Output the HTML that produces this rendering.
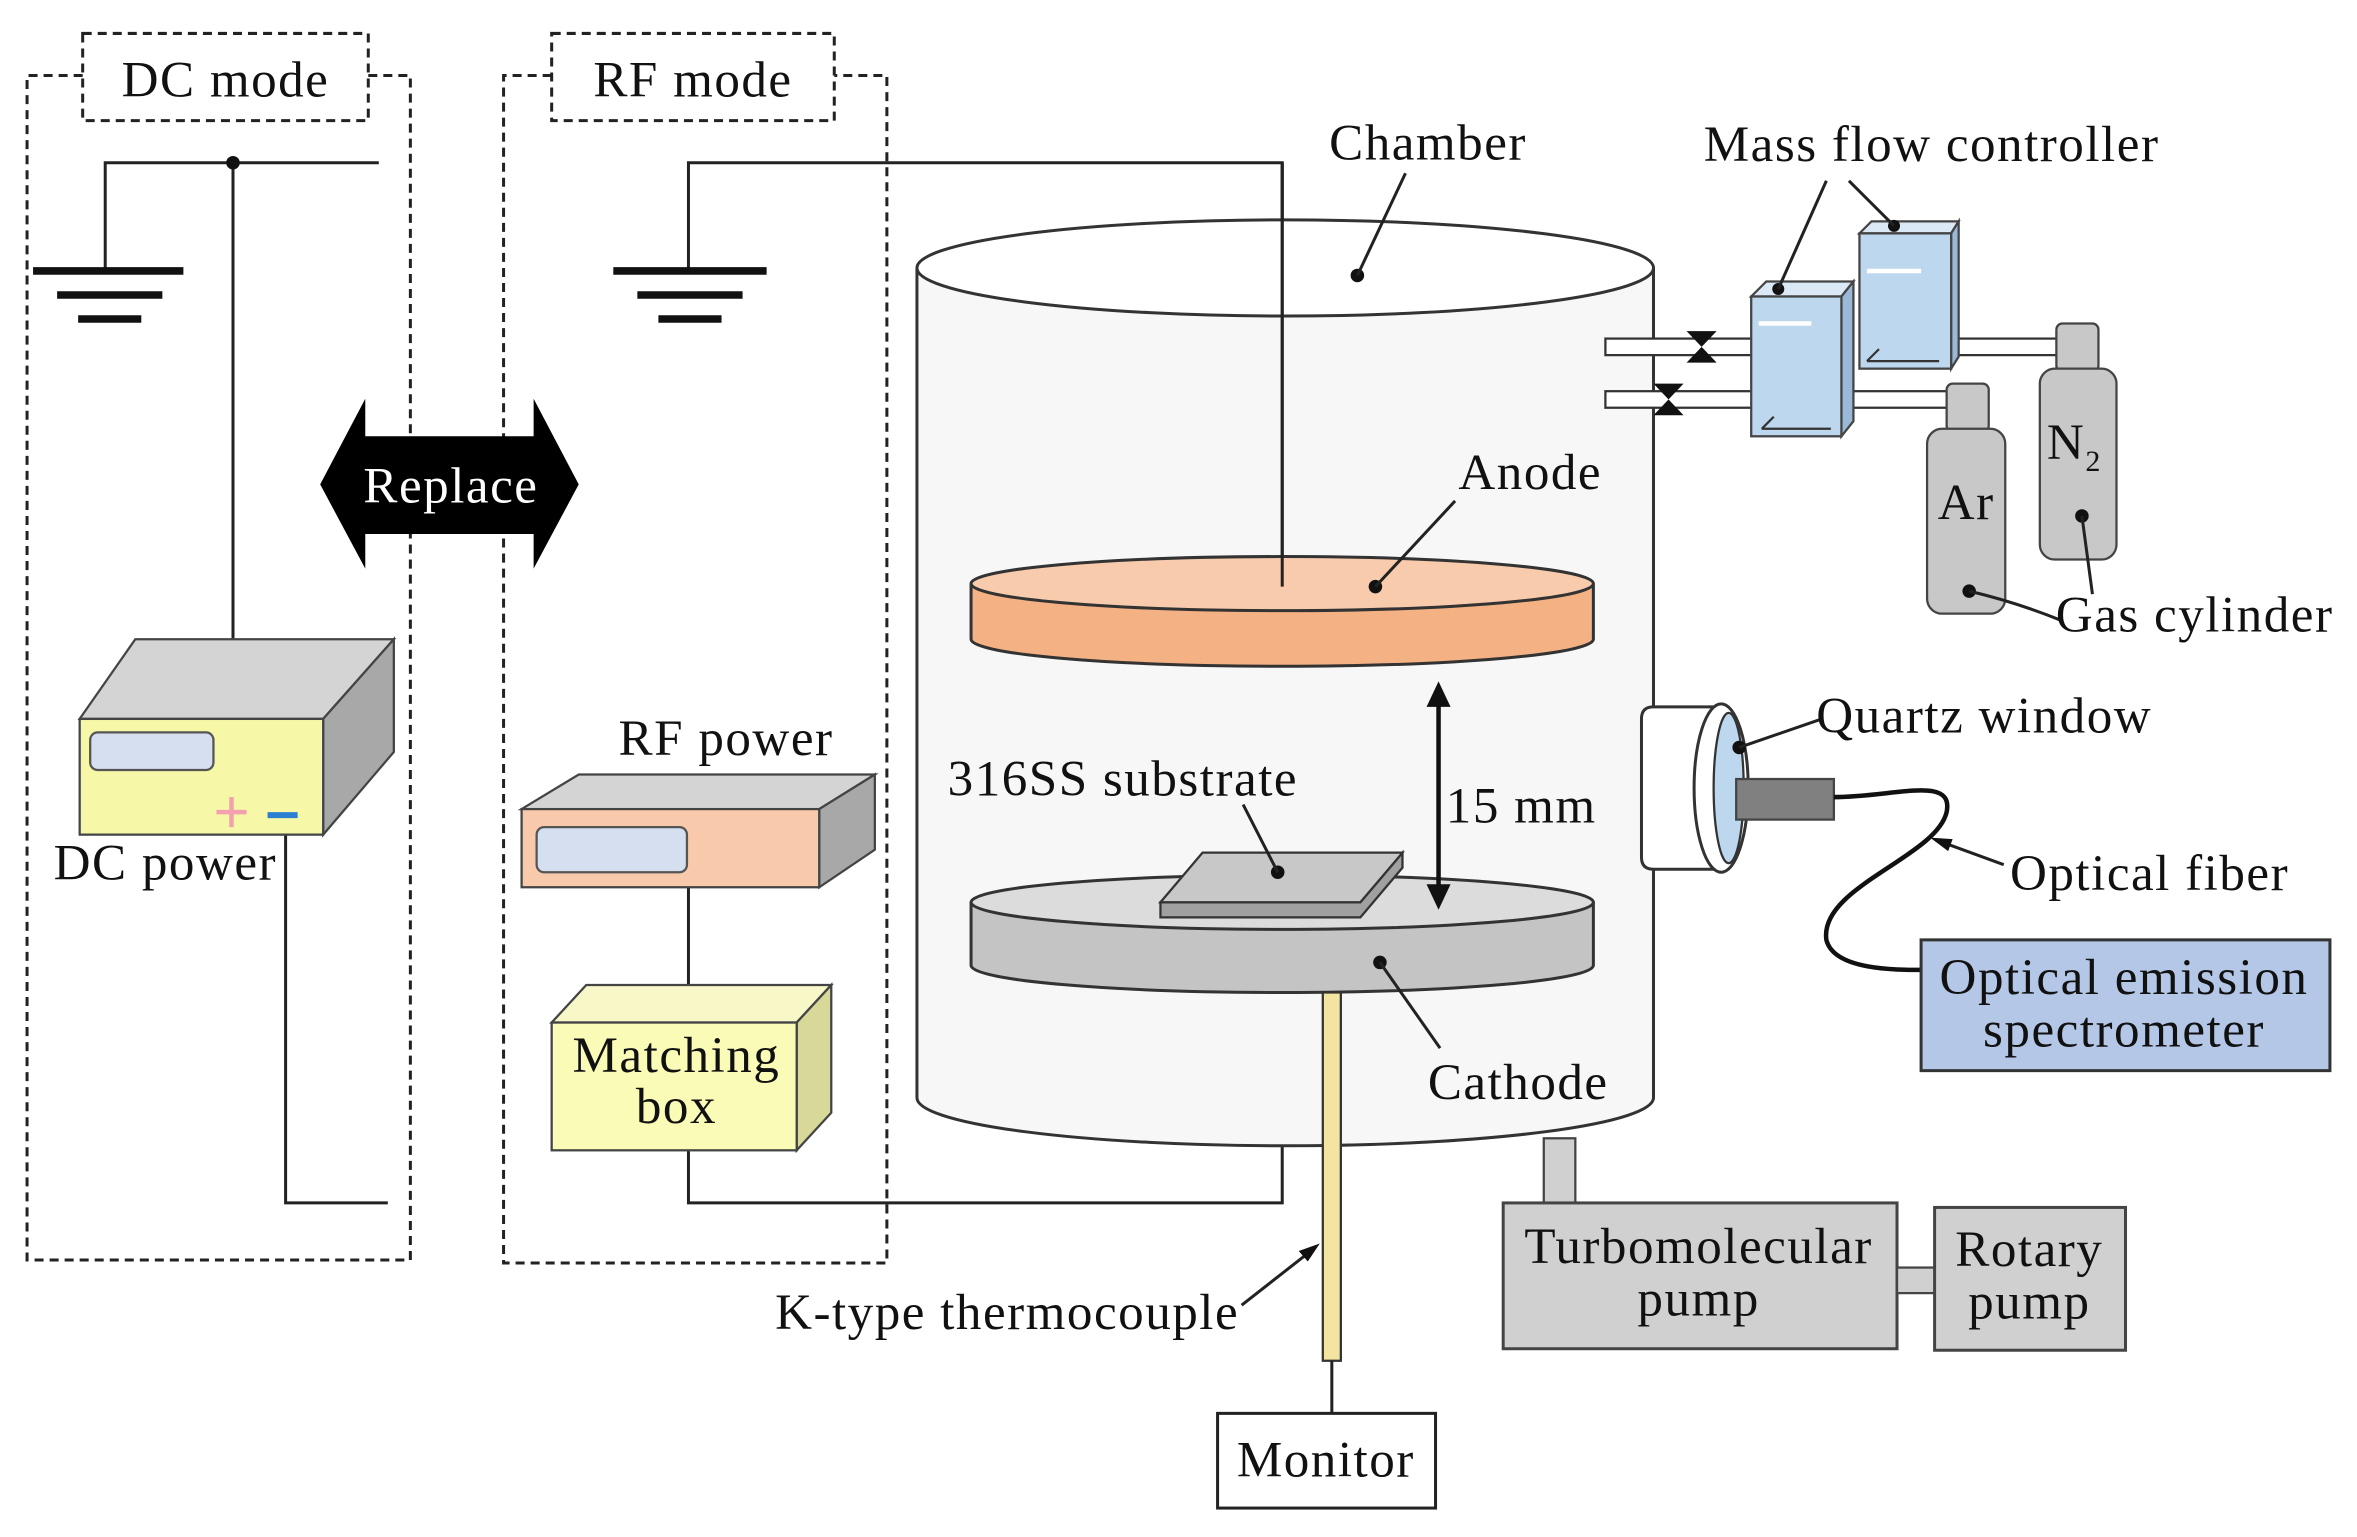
<!DOCTYPE html>
<html><head><meta charset="utf-8"><style>html,body{margin:0;padding:0;background:#fff}svg{display:block}text{font-family:"Liberation Serif",serif;font-size:34px;letter-spacing:1px;fill:#111}</style></head><body>
<svg width="2357" height="1537" viewBox="0 0 1568 1022" xmlns="http://www.w3.org/2000/svg">
<g fill="none" stroke="#222" stroke-width="2" stroke-dasharray="6,4">
<path d="M55,50 H18 V838 H273 V50 H245"/>
<rect x="55" y="22" width="190" height="58"/>
<path d="M367,50 H335 V840 H590 V50 H555"/>
<rect x="367" y="22" width="188" height="58"/>
</g>
<text x="150" y="64" text-anchor="middle">DC mode</text>
<text x="461" y="64" text-anchor="middle">RF mode</text>
<g stroke="#222" stroke-width="2" fill="none">
<path d="M70,180 V108 H252"/><path d="M155,108 V540"/>
<path d="M190,555 V800 H258"/>
<path d="M458,180 V108 H853 V390"/>
<path d="M458,590 V665"/>
<path d="M458,765 V800 H853 V660"/>
</g>
<circle cx="155" cy="108" r="4.5" fill="#111"/>
<g stroke="#111" stroke-width="5"><path d="M22,180H122M38,196H108M52,212H94M408,180H510M424,196H494M438,212H480"/></g>
<polygon points="53,478 90,425 262,425 215,478" fill="#d4d4d4" stroke="#444" stroke-width="1.5"/>
<polygon points="215,478 262,425 262,500 215,555" fill="#a8a8a8" stroke="#444" stroke-width="1.5"/>
<rect x="53" y="478" width="162" height="77" fill="#f7f7a8" stroke="#444" stroke-width="1.5"/>
<rect x="60" y="487" width="82" height="25" rx="5" fill="#d5dff0" stroke="#555" stroke-width="1.5"/>
<path d="M154,530V550M144,540H164" stroke="#f4a0b0" stroke-width="3"/>
<path d="M178,542H198" stroke="#2a7fd0" stroke-width="4"/>
<text x="110" y="585" text-anchor="middle">DC power</text>
<polygon points="213,322 243,265 243,290 355,290 355,265 385,322 355,378 355,355 243,355 243,378" fill="#000"/>
<text x="300" y="334" text-anchor="middle" style="fill:#fff">Replace</text>
<polygon points="347,538 385,515 582,515 545,538" fill="#d4d4d4" stroke="#444" stroke-width="1.5"/>
<polygon points="545,538 582,515 582,565 545,590" fill="#a8a8a8" stroke="#444" stroke-width="1.5"/>
<rect x="347" y="538" width="198" height="52" fill="#f8c9aa" stroke="#444" stroke-width="1.5"/>
<rect x="357" y="550" width="100" height="30" rx="5" fill="#d5dff0" stroke="#555" stroke-width="1.5"/>
<text x="483" y="502" text-anchor="middle">RF power</text>
<polygon points="367,680 390,655 553,655 530,680" fill="#f7f7c8" stroke="#444" stroke-width="1.5"/>
<polygon points="530,680 553,655 553,740 530,765" fill="#d8d898" stroke="#444" stroke-width="1.5"/>
<rect x="367" y="680" width="163" height="85" fill="#fbfbb8" stroke="#444" stroke-width="1.5"/>
<text x="450" y="713" text-anchor="middle">Matching</text>
<text x="450" y="747" text-anchor="middle">box</text>
<path d="M610,178 V730 A245,32 0 0 0 1100,730 V178" fill="#f7f7f7" stroke="#333" stroke-width="2"/>
<ellipse cx="855" cy="178" rx="245" ry="32" fill="#fff" stroke="#333" stroke-width="2"/>
<path d="M853,108 V390" stroke="#222" stroke-width="2"/>
<circle cx="903" cy="183" r="4.5" fill="#111"/><path d="M903,183 L935,115" stroke="#222" stroke-width="2"/>
<text x="950" y="106" text-anchor="middle">Chamber</text>
<path d="M646,388 V425 A207,18 0 0 0 1060,425 V388" fill="#f4b183" stroke="#333" stroke-width="2"/>
<ellipse cx="853" cy="388" rx="207" ry="18" fill="#f8cbad" stroke="#333" stroke-width="2"/>
<path d="M853,108 V390" stroke="#222" stroke-width="2"/>
<circle cx="915" cy="390" r="4.5" fill="#111"/><path d="M915,390 L968,333" stroke="#222" stroke-width="2"/>
<text x="1018" y="325" text-anchor="middle">Anode</text>
<path d="M646,600 V642 A207,18 0 0 0 1060,642 V600" fill="#c4c4c4" stroke="#333" stroke-width="2"/>
<ellipse cx="853" cy="600" rx="207" ry="18" fill="#dcdcdc" stroke="#333" stroke-width="2"/>
<polygon points="772,600 905,600 933,567 933,577 905,610 772,610" fill="#a0a0a0" stroke="#333" stroke-width="1.5"/>
<polygon points="772,600 800,567 933,567 905,600" fill="#c8c8c8" stroke="#333" stroke-width="1.5"/>
<circle cx="850" cy="580" r="4.5" fill="#111"/><path d="M850,580 L827,535" stroke="#222" stroke-width="2"/>
<text x="747" y="529" text-anchor="middle">316SS substrate</text>
<circle cx="918" cy="640" r="4.5" fill="#111"/><path d="M918,640 L958,697" stroke="#222" stroke-width="2"/>
<text x="1010" y="731" text-anchor="middle">Cathode</text>
<path d="M957,462 V596" stroke="#111" stroke-width="3"/>
<polygon points="957,453 949,470 965,470" fill="#111"/><polygon points="957,605 949,588 965,588" fill="#111"/>
<text x="1012" y="547" text-anchor="middle">15 mm</text>
<rect x="880" y="660" width="12" height="245" fill="#f3e5a0" stroke="#333" stroke-width="1.5"/>
<path d="M886,905 V940" stroke="#222" stroke-width="2"/>
<rect x="810" y="940" width="145" height="63" fill="#fff" stroke="#222" stroke-width="2"/>
<text x="882" y="982" text-anchor="middle">Monitor</text>
<text x="670" y="884" text-anchor="middle">K-type thermocouple</text>
<path d="M826,868 L872,832" stroke="#222" stroke-width="2"/><polygon points="878,827 864,832 870,839" fill="#111"/>
<rect x="1027" y="757" width="21" height="43" fill="#d0d0d0" stroke="#444" stroke-width="1.5"/>
<rect x="1000" y="800" width="262" height="97" fill="#d0d0d0" stroke="#444" stroke-width="2"/>
<text x="1130" y="840" text-anchor="middle">Turbomolecular</text><text x="1130" y="875" text-anchor="middle">pump</text>
<rect x="1262" y="843" width="25" height="17" fill="#d0d0d0" stroke="#444" stroke-width="1.5"/>
<rect x="1287" y="803" width="127" height="95" fill="#d0d0d0" stroke="#444" stroke-width="2"/>
<text x="1350" y="842" text-anchor="middle">Rotary</text><text x="1350" y="877" text-anchor="middle">pump</text>
<path d="M1100,470 H1140 V578 H1100 Q1092,578 1092,570 V478 Q1092,470 1100,470Z" fill="#fff" stroke="#333" stroke-width="2"/>
<ellipse cx="1145" cy="524" rx="18" ry="56" fill="#fff" stroke="#333" stroke-width="2"/>
<ellipse cx="1150" cy="524" rx="10" ry="50" fill="#bdd7ee" stroke="#333" stroke-width="1.5"/>
<rect x="1155" y="518" width="65" height="27" fill="#808080" stroke="#444" stroke-width="1.5"/>
<path d="M1220,530 C1260,530 1300,515 1295,540 C1288,570 1210,590 1215,625 C1220,645 1260,645 1280,645" fill="none" stroke="#111" stroke-width="3"/>
<circle cx="1157" cy="497" r="4.5" fill="#111"/><path d="M1157,497 L1212,478" stroke="#222" stroke-width="2"/>
<text x="1320" y="487" text-anchor="middle">Quartz window</text>
<path d="M1333,575 L1292,560" stroke="#222" stroke-width="2"/><polygon points="1284,557 1296,566 1299,558" fill="#111"/>
<text x="1430" y="592" text-anchor="middle">Optical fiber</text>
<rect x="1278" y="625" width="272" height="87" fill="#b4c7e7" stroke="#333" stroke-width="2"/>
<text x="1413" y="661" text-anchor="middle">Optical emission</text><text x="1413" y="696" text-anchor="middle">spectrometer</text>
<g fill="#fff" stroke="#333" stroke-width="1.5">
<rect x="1068" y="225" width="100" height="11"/><rect x="1068" y="260" width="100" height="11"/>
<rect x="1300" y="225" width="70" height="11"/><rect x="1225" y="260" width="75" height="11"/>
</g>
<polygon points="1122,220 1142,220 1122,241 1142,241" fill="#111"/>
<polygon points="1100,255 1120,255 1100,276 1120,276" fill="#111"/>
<g stroke="#444" stroke-width="1.5">
<polygon points="1165,197 1175,187 1233,187 1225,197" fill="#dbe8f5"/>
<polygon points="1225,197 1233,187 1233,280 1225,290" fill="#9ab8d8"/>
<rect x="1165" y="197" width="60" height="93" fill="#bdd7ee"/>
<polygon points="1237,155 1245,147 1303,147 1298,155" fill="#dbe8f5"/>
<polygon points="1298,155 1303,147 1303,237 1298,245" fill="#9ab8d8"/>
<rect x="1237" y="155" width="61" height="90" fill="#bdd7ee"/>
</g>
<path d="M1170,215H1205M1242,180H1278" stroke="#fff" stroke-width="3"/>
<path d="M1172,285 H1218 M1172,285 L1180,277 M1242,240 H1290 M1242,240 L1250,232" stroke="#333" stroke-width="1.5"/>
<circle cx="1183" cy="192" r="4" fill="#111"/><circle cx="1260" cy="150" r="4" fill="#111"/>
<path d="M1183,192 L1215,120 M1260,150 L1230,120" stroke="#222" stroke-width="2"/>
<text x="1285" y="107" text-anchor="middle">Mass flow controller</text>
<g fill="#c8c8c8" stroke="#444" stroke-width="1.5">
<rect x="1295" y="255" width="28" height="32" rx="4"/><rect x="1282" y="285" width="52" height="123" rx="10"/>
<rect x="1368" y="215" width="28" height="32" rx="4"/><rect x="1357" y="245" width="51" height="127" rx="10"/>
</g>
<text x="1308" y="345" text-anchor="middle">Ar</text>
<text x="1380" y="305" text-anchor="middle">N<tspan font-size="20" dy="8">2</tspan></text>
<circle cx="1310" cy="393" r="4.5" fill="#111"/><circle cx="1385" cy="343" r="4.5" fill="#111"/>
<path d="M1310,393 Q1340,400 1370,412 M1385,343 L1392,395" fill="none" stroke="#222" stroke-width="2"/>
<text x="1460" y="420" text-anchor="middle">Gas cylinder</text>
</svg>
</body></html>
